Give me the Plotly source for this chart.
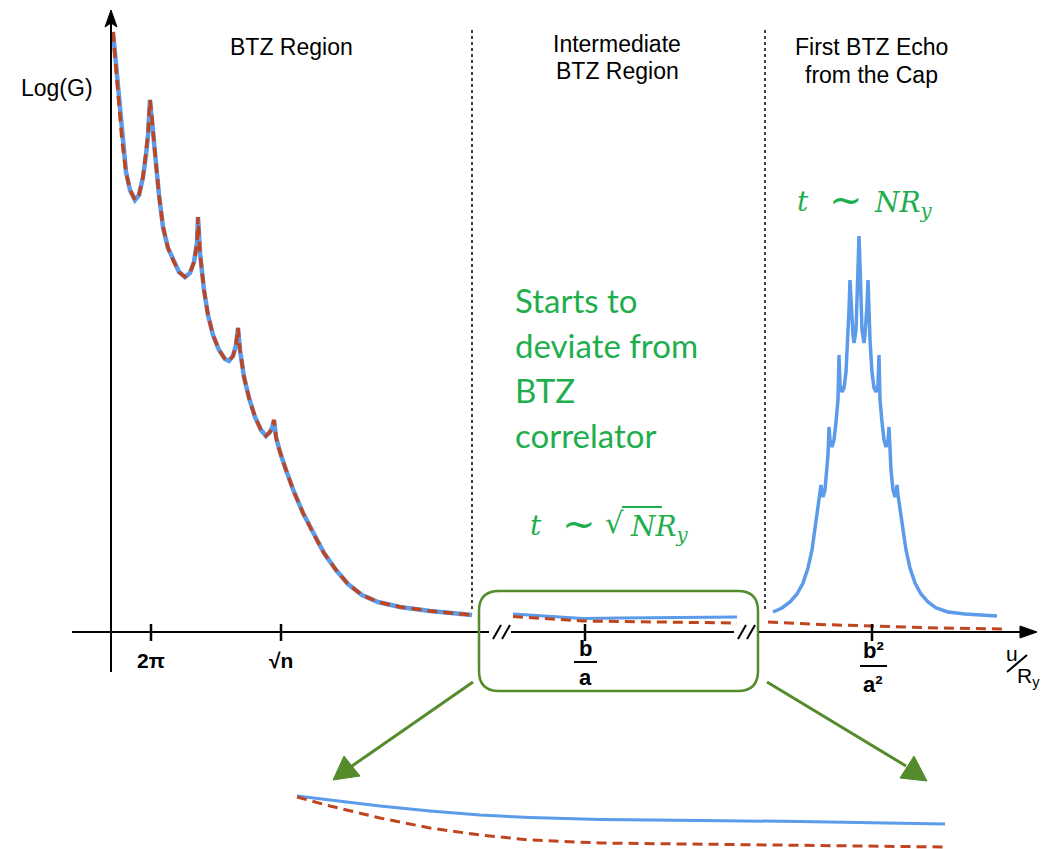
import plotly.graph_objects as go

# ---- data (diagram units: x ~ u/R_y position, y ~ Log(G) position, screen-oriented) ----
btz_x = [113, 116, 119, 122, 126, 130, 135, 139, 143, 146, 148, 150, 152, 155, 159, 163, 168, 173, 179, 185,
         190, 194, 197, 198, 200, 204, 208, 213, 219, 225, 229, 233, 236, 238, 240, 244, 249, 255, 261, 266,
         270, 272, 274, 276, 280, 286, 294, 303, 313, 324, 336, 348, 362, 378, 400, 430, 472]
btz_y = [32, 65, 105, 140, 172, 190, 200, 195, 177, 155, 135, 100, 118, 153, 195, 227, 248, 260, 272, 277,
         273, 262, 243, 217, 253, 290, 315, 335, 350, 359, 361, 356, 345, 328, 350, 377, 398, 417, 430, 436,
         432, 428, 420, 437, 452, 470, 492, 513, 533, 553, 570, 584, 595, 602, 607, 611, 615]

mid_x = [513, 540, 583, 620, 660, 700, 737]
mid_blue_y = [614, 616, 618.5, 618, 617.5, 617, 617]
mid_red_y = [616.5, 618.5, 621, 621.5, 622, 622.5, 623]

cap_red_x = [768, 820, 872, 940, 1005]
cap_red_y = [622, 624.5, 626, 628, 629]

echo_x = [773, 782, 790, 797, 803, 808, 812, 815, 818, 820, 821, 822, 823, 825, 827, 828, 829, 830, 832, 834,
          836, 838, 839, 840, 842, 844, 846, 848, 849, 850, 851, 853, 854, 856, 857, 858, 859,
          860, 861, 862, 864, 865, 867, 868, 869, 870, 872, 874, 876, 878, 879, 880, 882, 884, 886, 888,
          889, 890, 891, 893, 895, 896, 897, 898, 900, 903, 906, 910, 915, 921, 928, 936, 948, 965, 980, 997]
echo_y = [612, 608, 602, 594, 583, 568, 550, 530, 510, 495, 485, 493, 497, 490, 470, 455, 427, 440, 447, 440,
          422, 400, 355, 385, 392, 388, 372, 340, 310, 280, 305, 335, 343, 330, 300, 265, 236,
          265, 300, 330, 343, 335, 305, 280, 310, 340, 372, 388, 392, 385, 355, 400, 422, 440, 447, 440,
          427, 455, 470, 490, 497, 493, 485, 495, 510, 530, 550, 568, 583, 594, 602, 608, 612, 614, 615, 616]

zoom_x = [297, 330, 380, 430, 480, 530, 600, 700, 800, 945]
zoom_blue_y = [796, 800, 806, 811, 815, 817.5, 819.5, 820.5, 821.5, 824]
zoom_red_y = [797, 806, 818, 828, 835, 840, 843, 844, 845, 847]

tick_x = [151, 281, 585, 872]
region_labels = [("BTZ Region", 291, 47), ("Intermediate", 617, 44), ("BTZ Region", 617, 71),
                 ("First BTZ Echo", 871, 47), ("from the Cap", 871, 75)]
green_lines = ["Starts to", "deviate from", "BTZ", "correlator"]

BLUE = "#5B9BEA"
RED = "#C0441E"
GREEN_T = "#1FAE4E"
GREEN_B = "#548B2B"
DASH = "10px,6px"

fig = go.Figure()

def line(x, y, color, width, dash=None):
    fig.add_trace(go.Scatter(x=x, y=y, mode="lines", hoverinfo="skip",
                             line=dict(color=color, width=width, dash=dash or "solid")))

line(btz_x, btz_y, BLUE, 4.5)
line(btz_x, btz_y, RED, 3.5, DASH)
line(mid_x, mid_blue_y, BLUE, 3)
line(mid_x, mid_red_y, RED, 3, DASH)
line(echo_x, echo_y, BLUE, 3.5)
line(cap_red_x, cap_red_y, RED, 3, DASH)
line(zoom_x, zoom_blue_y, BLUE, 3)
line(zoom_x, zoom_red_y, RED, 3, DASH)

shapes = []
K = dict(color="black", width=2)
# axes
shapes.append(dict(type="line", x0=111, y0=672, x1=111, y1=20, line=K))
shapes.append(dict(type="path", path="M 105 27 L 111 10 L 117 27 L 111 23 Z", fillcolor="black", line=dict(color="black", width=1)))
shapes.append(dict(type="line", x0=72, y0=632, x1=489, y1=632, line=K))
shapes.append(dict(type="line", x0=511, y0=632, x1=734, y1=632, line=K))
shapes.append(dict(type="line", x0=757, y0=632, x1=1024, y1=632, line=K))
shapes.append(dict(type="path", path="M 1020 626 L 1037 632 L 1020 638 Z", fillcolor="black", line=dict(color="black", width=1)))
# axis break marks
for bx in (493, 502, 738, 747):
    shapes.append(dict(type="line", x0=bx, y0=639, x1=bx + 8, y1=625, line=K))
# ticks
for tx in tick_x:
    shapes.append(dict(type="line", x0=tx, y0=624, x1=tx, y1=641, line=dict(color="black", width=2.5)))
# region separators
for vx in (472, 765):
    shapes.append(dict(type="line", x0=vx, y0=30, x1=vx, y1=612, line=dict(color="black", width=1.5, dash="dot")))
# fraction bars
shapes.append(dict(type="line", x0=574, y0=662, x1=597, y1=662, line=K))
shapes.append(dict(type="line", x0=860, y0=666, x1=887, y1=666, line=K))
# u/R_y slash
shapes.append(dict(type="line", x0=1007, y0=672, x1=1027, y1=655, line=K))
# rounded green box
x0, x1, y0, y1, r = 479, 758, 591, 691, 20
box = (f"M {x0+r} {y0} L {x1-r} {y0} Q {x1} {y0} {x1} {y0+r} L {x1} {y1-r} Q {x1} {y1} {x1-r} {y1} "
       f"L {x0+r} {y1} Q {x0} {y1} {x0} {y1-r} L {x0} {y0+r} Q {x0} {y0} {x0+r} {y0} Z")
shapes.append(dict(type="path", path=box, line=dict(color=GREEN_B, width=2.5)))
# green arrow shafts and heads
shapes.append(dict(type="line", x0=473, y0=682, x1=352, y1=766, line=dict(color=GREEN_B, width=3)))
shapes.append(dict(type="path", path="M 333 780 L 344 756 L 360 776 Z", fillcolor=GREEN_B, line=dict(color=GREEN_B, width=1)))
shapes.append(dict(type="line", x0=767, y0=682, x1=906, y1=766, line=dict(color=GREEN_B, width=3)))
shapes.append(dict(type="path", path="M 927 781 L 900 778 L 914 756 Z", fillcolor=GREEN_B, line=dict(color=GREEN_B, width=1)))

anns = []
SANS = "Liberation Sans, Arial, sans-serif"
def txt(t, x, y, size=23, color="black", family=SANS, xanchor="center"):
    anns.append(dict(text=t, x=x, y=y, xref="x", yref="y", showarrow=False, xanchor=xanchor, yanchor="middle",
                     font=dict(size=size, color=color, family=family)))

for t, x, y in region_labels:
    txt(t, x, y)
txt("Log(G)", 57, 88)
txt("<b>2π</b>", 151, 660, size=21)
txt("<b>√n</b>", 281, 660, size=21)
txt("<b>b</b>", 585, 648, size=22)
txt("<b>a</b>", 585, 677, size=22)
txt("<b>b²</b>", 873, 650, size=22)
txt("<b>a²</b>", 873, 684, size=22)
txt("u", 1012, 653, size=21)
txt("R<sub>y</sub>", 1015, 677, size=21, xanchor="left")
for i, ln in enumerate(green_lines):
    txt(ln, 513, 300 + 45 * i, size=33, color=GREEN_T, family="Lato, sans-serif", xanchor="left")

SERIF = "DejaVu Serif, serif"
# t ~ sqrt(N) R_y
txt("<i>t</i>", 528, 525, size=28, color=GREEN_T, family=SERIF, xanchor="left")
txt("~", 560, 523, size=40, color=GREEN_T, family=SERIF, xanchor="left")
txt("√", 603, 523, size=29, color=GREEN_T, family=SERIF, xanchor="left")
txt("<i>NR</i><sub><i>y</i></sub>", 628, 528, size=28, color=GREEN_T, family=SERIF, xanchor="left")
shapes.append(dict(type="line", x0=622, y0=507, x1=662, y1=507, line=dict(color=GREEN_T, width=2), xref="x", yref="y"))
# t ~ N R_y
txt("<i>t</i>", 795, 201, size=28, color=GREEN_T, family=SERIF, xanchor="left")
txt("~", 827, 199, size=40, color=GREEN_T, family=SERIF, xanchor="left")
txt("<i>NR</i><sub><i>y</i></sub>", 872, 204, size=28, color=GREEN_T, family=SERIF, xanchor="left")

for s in shapes:
    s["xref"] = "x"
    s["yref"] = "y"

# page body has an 8px margin: shift the data window so that units equal page pixels
fig.update_layout(
    width=1040, height=841, margin=dict(l=0, r=0, t=0, b=0),
    paper_bgcolor="white", plot_bgcolor="white", showlegend=False,
    xaxis=dict(range=[8, 1048], visible=False, fixedrange=True),
    yaxis=dict(range=[849, 8], visible=False, fixedrange=True),
    shapes=shapes, annotations=anns,
)
fig.write_html("out.html")
